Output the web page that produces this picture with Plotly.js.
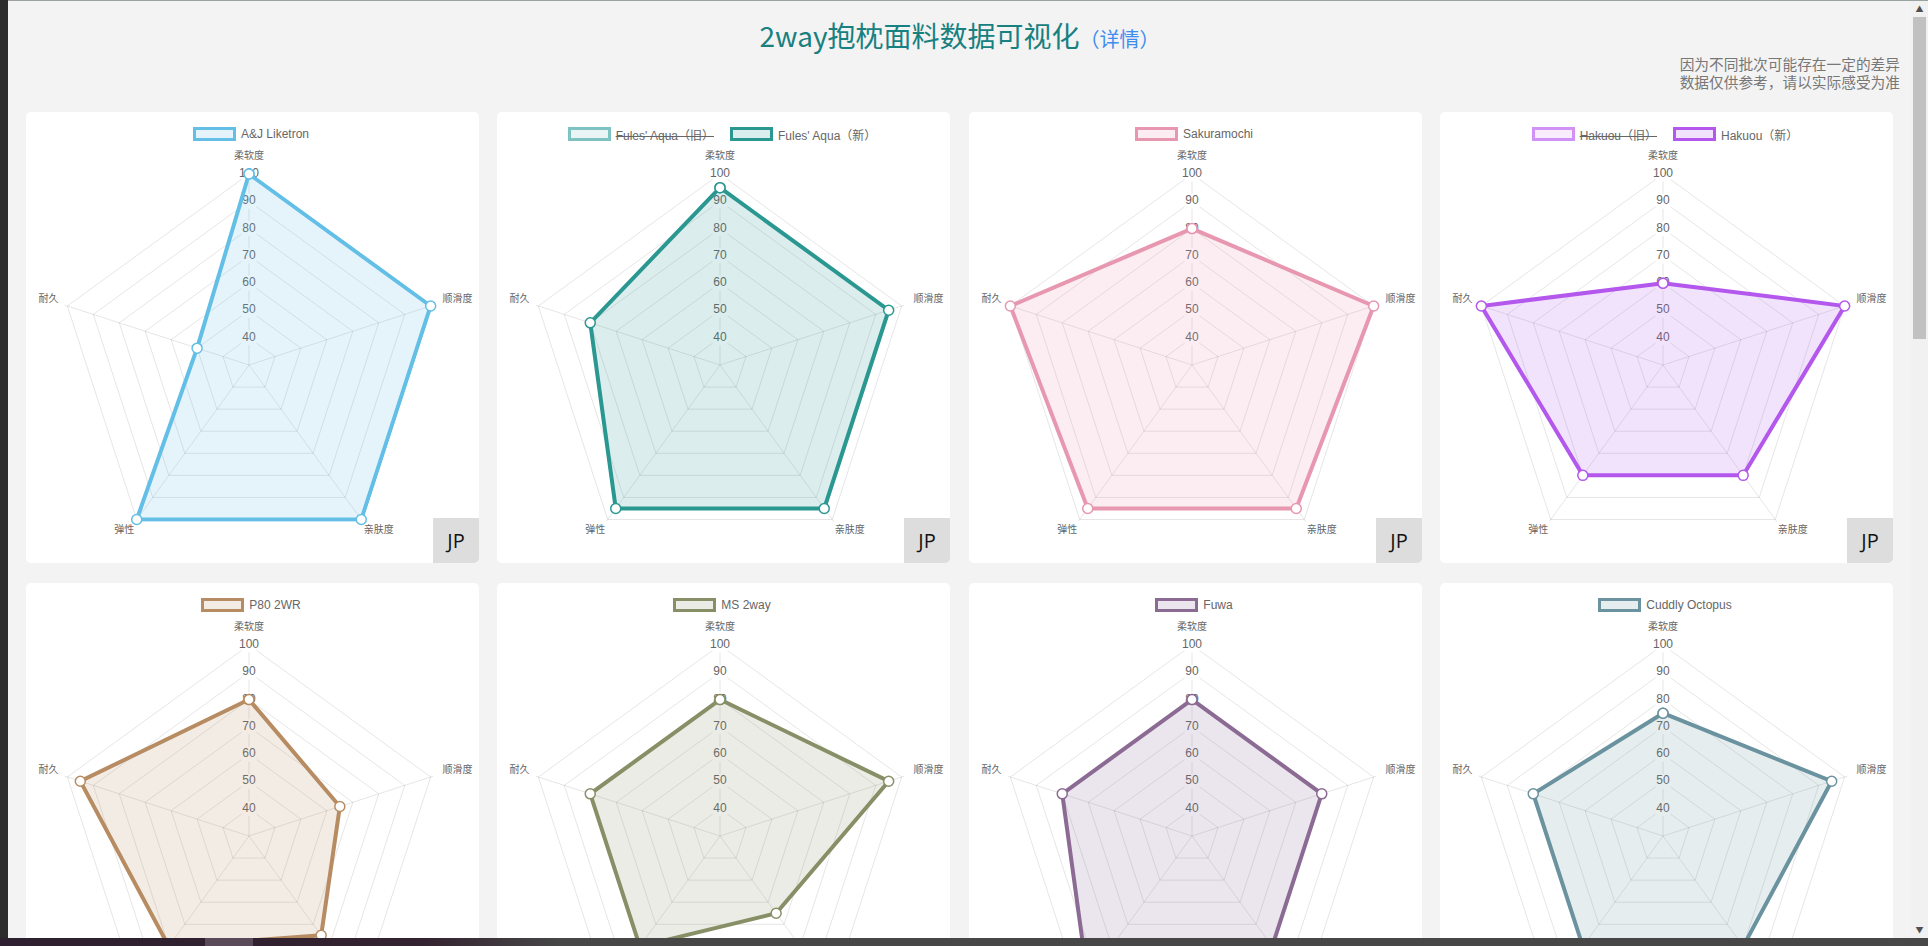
<!DOCTYPE html>
<html>
<head>
<meta charset="utf-8">
<script src="https://cdn.plot.ly/plotly-3.0.1.min.js"></script>
<style>
  html, body { margin:0; padding:0; width:1928px; height:946px; overflow:hidden; background:#f3f3f3;
    font-family:"Noto Sans CJK SC","Liberation Sans",sans-serif; }
  #topline { position:absolute; left:0; top:0; width:1928px; height:1px; background:#9aa2a2; z-index:5; }
  #leftbar { position:absolute; left:0; top:0; width:8px; height:946px; background:#2c2c2c; z-index:5; }
  #title { position:absolute; left:8px; width:1903px; top:14px; line-height:42px; text-align:center;
    font-size:28px; color:#178080; white-space:nowrap; }
  #title .more { font-size:20px; color:#3d8ef0; }
  #note { position:absolute; right:28px; top:55px; text-align:right; font-size:14.7px; line-height:18px; color:#777; }
  .card { position:absolute; width:453px; height:451px; background:#fff; border-radius:5px; overflow:hidden; }
  .plot { position:absolute; left:0; top:0; width:453px; height:451px; }
  .legend { position:absolute; left:0; width:450px; top:14px; height:16px; display:flex; justify-content:center;
    align-items:center; font-family:"Liberation Sans","Noto Sans CJK SC",sans-serif; font-size:12px; color:#666; }
  .legend .item { display:flex; align-items:center; margin:0 8px; white-space:nowrap; }
  .legend .box { box-sizing:border-box; width:43px; height:14px; border:3px solid; margin-right:5px; }
  .legend .off { text-decoration:line-through; }
  .jp { position:absolute; right:0; bottom:0; width:46px; height:45px; background:#dddddd; color:#111;
    font-family:"Open Sans","Noto Sans",sans-serif; font-size:20px; line-height:45px; text-align:center; }
  #scroll { position:absolute; left:1911px; top:0; width:17px; height:938px; background:#f1f1f1; }
  #thumb { position:absolute; left:2px; top:17px; width:13px; height:322px; background:#c1c1c1; }
  .arrow { position:absolute; left:0; width:17px; height:17px; font-size:8px; line-height:17px; text-align:center; color:#505050; }
  #taskbar { position:absolute; left:0; top:938px; width:1928px; height:8px;
    background:linear-gradient(to right,#2e2030 0px,#33222f 420px,#474747 560px,#474747 100%); z-index:6; }
  #taskbar .app { position:absolute; left:205px; top:0; width:48px; height:8px; background:#5b4a5a; }
</style>
</head>
<body>
<div id="topline"></div>
<div id="leftbar"></div>
<div id="title">2way抱枕面料数据可视化<span class="more">（详情）</span></div>
<div id="note">因为不同批次可能存在一定的差异<br>数据仅供参考，请以实际感受为准</div>
<div id="cards"></div>
<div id="scroll"><div class="arrow" style="top:0">▲</div><div id="thumb"></div><div class="arrow" style="bottom:0">▼</div></div>
<div id="taskbar"><div class="app"></div></div>

<script>
// ---- data ----
const categories = ['柔软度', '顺滑度', '亲肤度', '弹性', '耐久'];
const tickValues = [40, 50, 60, 70, 80, 90, 100];
const tickLabels = ['40', '50', '60', '70', '80', '90', '100'];

const ajLiketron     = [100, 100, 100, 100, 50];
const fulesAquaOld   = [90, 90, 90, 90, 75];
const fulesAquaNew   = [95, 95, 95, 95, 80];
const sakuramochi    = [80, 100, 95, 95, 100];
const hakuouOld      = [55, 95, 75, 75, 95];
const hakuouNew      = [60, 100, 80, 80, 100];
const p80TwoWR       = [80, 65, 75, 80, 95];
const ms2way         = [80, 95, 65, 80, 80];
const fuwa           = [80, 80, 80, 95, 80];
const cuddlyOctopus  = [75, 95, 80, 80, 80];

// ---- card configuration (built from the arrays above) ----
const cards = [
  [{name: 'A&J Liketron', values: ajLiketron, color: [99, 191, 230], hidden: false}],
  [{name: "Fules' Aqua（旧）", values: fulesAquaOld, color: [127, 194, 194], hidden: true},
   {name: "Fules' Aqua（新）", values: fulesAquaNew, color: [42, 151, 145], hidden: false}],
  [{name: 'Sakuramochi', values: sakuramochi, color: [232, 151, 176], hidden: false}],
  [{name: 'Hakuou（旧）', values: hakuouOld, color: [209, 146, 245], hidden: true},
   {name: 'Hakuou（新）', values: hakuouNew, color: [179, 87, 237], hidden: false}],
  [{name: 'P80 2WR', values: p80TwoWR, color: [183, 140, 98], hidden: false}],
  [{name: 'MS 2way', values: ms2way, color: [135, 143, 102], hidden: false}],
  [{name: 'Fuwa', values: fuwa, color: [139, 106, 147], hidden: false}],
  [{name: 'Cuddly Octopus', values: cuddlyOctopus, color: [106, 146, 159], hidden: false}]
];
const showJP = [true, true, true, true, false, false, false, false];

const rgb = (c) => `rgb(${c[0]},${c[1]},${c[2]})`;
const rgba = (c, a) => `rgba(${c[0]},${c[1]},${c[2]},${a})`;

const cardLeft = [26, 497, 969, 1440];
const cardTop = [112, 583];
const rMin = 30, rMax = 101;            // a little headroom so lines at 100 are not clipped
const W = 453, H = 451, CX = 223, CY = 253;
const R = 191 * (rMax - rMin) / 70;     // 100 ring sits 191 px from the centre
const labelNudge = {'顺滑度': 3, '弹性': 3, '亲肤度': -3};
const container = document.getElementById('cards');

cards.forEach((datasets, idx) => {
  const card = document.createElement('div');
  card.className = 'card';
  card.style.left = cardLeft[idx % 4] + 'px';
  card.style.top = cardTop[Math.floor(idx / 4)] + 'px';
  const plot = document.createElement('div');
  plot.className = 'plot';
  card.appendChild(plot);

  const leg = document.createElement('div');
  leg.className = 'legend';
  datasets.forEach(ds => {
    const it = document.createElement('div');
    it.className = 'item';
    const box = document.createElement('div');
    box.className = 'box';
    box.style.borderColor = rgb(ds.color);
    box.style.background = rgba(ds.color, 0.17);
    const tx = document.createElement('span');
    tx.textContent = ds.name;
    if (ds.hidden) tx.className = 'off';
    it.appendChild(box); it.appendChild(tx);
    leg.appendChild(it);
  });
  card.appendChild(leg);

  if (showJP[idx]) {
    const jp = document.createElement('div');
    jp.className = 'jp';
    jp.textContent = 'JP';
    card.appendChild(jp);
  }
  container.appendChild(card);

  const traces = [{
    type: 'scatterpolar',
    r: tickValues,
    theta: tickValues.map(() => categories[0]),
    mode: 'markers+text',
    text: tickLabels,
    textposition: 'middle center',
    textfont: {family: 'Liberation Sans, Arial, sans-serif', size: 12, color: '#666'},
    marker: {symbol: 'square', size: 15, color: '#ffffff', line: {width: 0}},
    hoverinfo: 'skip',
    showlegend: false,
    cliponaxis: false
  }];
  datasets.forEach(ds => {
    traces.push({
      type: 'scatterpolar',
      name: ds.name,
      r: ds.values.concat([ds.values[0]]),
      theta: categories.concat([categories[0]]),
      mode: 'lines+markers',
      fill: 'toself',
      fillcolor: rgba(ds.color, 0.17),
      line: {color: rgb(ds.color), width: 4},
      marker: {size: 10, color: '#ffffff', line: {color: rgb(ds.color), width: 1.5}},
      visible: ds.hidden ? 'legendonly' : true,
      showlegend: false,
      cliponaxis: false
    });
  });

  const layout = {
    width: W, height: H,
    margin: {l: 0, r: 0, t: 0, b: 0, pad: 0},
    paper_bgcolor: 'rgba(0,0,0,0)',
    showlegend: false,
    polar: {
      domain: {x: [(CX - R) / W, (CX + R) / W], y: [(H - CY - R) / H, (H - CY + R) / H]},
      gridshape: 'linear',
      bgcolor: 'rgba(0,0,0,0)',
      radialaxis: {
        range: [rMin, rMax], tickvals: tickValues, showticklabels: false, ticks: '',
        showline: false, gridcolor: 'rgba(0,0,0,0.1)', gridwidth: 1, angle: 90
      },
      angularaxis: {
        type: 'category', categoryarray: categories, rotation: 90, direction: 'clockwise',
        ticks: 'outside', ticklen: 4, tickcolor: 'rgba(0,0,0,0)',
        tickfont: {family: 'Noto Sans CJK SC, sans-serif', size: 10, color: '#666'},
        gridcolor: 'rgba(0,0,0,0.1)', showline: false
      }
    }
  };
  Plotly.newPlot(plot, traces, layout, {staticPlot: true, displayModeBar: false}).then(() => {
    plot.querySelectorAll('g.angular-axis').forEach(g => {
      const t = g.getAttribute('transform') || '';
      g.setAttribute('transform', t + ' translate(0,-4)');
      g.querySelectorAll('text').forEach(txt => {
        const dx = labelNudge[txt.textContent] || 0;
        if (dx) {
          const tt = txt.getAttribute('transform') || '';
          txt.setAttribute('transform', `translate(${dx},0) ` + tt);
        }
      });
    });
  });
});
</script>
</body>
</html>
